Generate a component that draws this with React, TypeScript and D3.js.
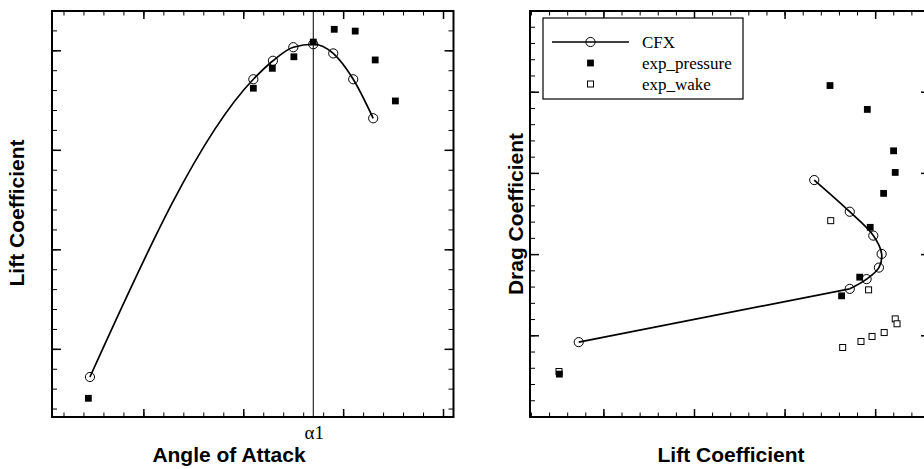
import * as d3 from 'd3';

// CFX simulation: angle of attack, lift, drag
const ALPHA_CFX = [-2.7, 5.48, 6.46, 7.48, 8.48, 9.48, 10.48, 11.48];
const LIFT_CFX = [-0.139, 1.357, 1.45, 1.518, 1.533, 1.487, 1.357, 1.161];
const DRAG_CFX = [0.0461, 0.0789, 0.0849, 0.092, 0.1004, 0.1117, 0.1264, 0.1459];

// experiment, pressure integration
const ALPHA_PRESSURE = [-2.78, 5.48, 6.43, 7.51, 8.48, 9.53, 10.58, 11.58, 12.59];
const LIFT_PRESSURE = [-0.246, 1.312, 1.412, 1.47, 1.544, 1.608, 1.599, 1.454, 1.248];
const DRAG_PRESSURE = [0.0264, 0.0746, 0.0861, 0.1168, 0.1377, 0.1506, 0.1639, 0.1894, 0.2041];

// experiment, wake survey
const LIFT_WAKE = [-0.248, 1.318, 1.419, 1.48, 1.547, 1.608, 1.618, 1.461, 1.252];
const DRAG_WAKE = [0.028, 0.0428, 0.0465, 0.0496, 0.052, 0.0604, 0.0574, 0.0783, 0.1209];

const ALPHA_1 = 8.48;

// tick values (no labels on the axes)
const ALPHA_MAJOR = [0, 5, 10, 15];
const ALPHA_MINOR = d3.range(-4, 16, 1);
const LIFT_MAJOR = [0, 0.5, 1, 1.5];
const LIFT_MINOR = d3.range(-3, 18, 1).map(d => d / 10);
const LIFTX_MINOR = d3.range(-4, 19, 1).map(d => d / 10);
const DRAG_MAJOR = [0, 0.05, 0.1, 0.15, 0.2, 0.25];
const DRAG_MINOR = d3.range(0, 26, 1).map(d => d / 100);

const SANS = '"Liberation Sans", Arial, Helvetica, sans-serif';
const SERIF = '"Liberation Serif", "Times New Roman", serif';

type Scale = d3.ScaleLinear<number, number>;

function Frame({ x, y, xMajor, xMinor, yMajor, yMinor }: {
  x: Scale; y: Scale; xMajor: number[]; xMinor: number[]; yMajor: number[]; yMinor: number[];
}) {
  const [x0, x1] = x.range();
  const [y0, y1] = y.range(); // y0 bottom, y1 top
  const inX = (v: number) => v >= Math.min(x0, x1) && v <= Math.max(x0, x1);
  const inY = (v: number) => v >= Math.min(y0, y1) && v <= Math.max(y0, y1);
  const ticks: JSX.Element[] = [];
  const add = (vals: number[], len: number, w: number, key: string) => {
    vals.forEach((v, i) => {
      const px = x(v);
      if (!inX(px)) return;
      ticks.push(<line key={`${key}b${i}`} x1={px} x2={px} y1={y0} y2={y0 - len} stroke="#000" strokeWidth={w} />);
      ticks.push(<line key={`${key}t${i}`} x1={px} x2={px} y1={y1} y2={y1 + len} stroke="#000" strokeWidth={w} />);
    });
  };
  const addY = (vals: number[], len: number, w: number, key: string) => {
    vals.forEach((v, i) => {
      const py = y(v);
      if (!inY(py)) return;
      ticks.push(<line key={`${key}l${i}`} x1={x0} x2={x0 + len} y1={py} y2={py} stroke="#000" strokeWidth={w} />);
      ticks.push(<line key={`${key}r${i}`} x1={x1} x2={x1 - len} y1={py} y2={py} stroke="#000" strokeWidth={w} />);
    });
  };
  add(xMinor, 4.5, 1, 'xm');
  add(xMajor, 8, 1.5, 'xM');
  addY(yMinor, 5, 1, 'ym');
  addY(yMajor, 9, 1.5, 'yM');
  return (
    <g>
      {ticks}
      <rect x={x0} y={y1} width={x1 - x0} height={y0 - y1} fill="none" stroke="#000" strokeWidth={2} />
    </g>
  );
}

const Circle = ({ cx, cy }: { cx: number; cy: number }) => (
  <circle cx={cx} cy={cy} r={4.6} fill="none" stroke="#000" strokeWidth={1} />
);
const Filled = ({ cx, cy }: { cx: number; cy: number }) => (
  <rect x={cx - 3.4} y={cy - 3.4} width={6.8} height={6.8} fill="#000" />
);
const Open = ({ cx, cy }: { cx: number; cy: number }) => (
  <rect x={cx - 3} y={cy - 3} width={6} height={6} fill="#fff" stroke="#000" strokeWidth={1} />
);

export default function App() {
  // left: lift vs angle of attack
  const xA = d3.scaleLinear().domain([-4.6, 15.5]).range([52, 453.5]);
  const yL = d3.scaleLinear().domain([-0.34, 1.7]).range([417, 11]);
  // right: drag vs lift
  const xL = d3.scaleLinear().domain([-0.408, 1.8]).range([530, 930]);
  const yD = d3.scaleLinear().domain([0, 0.25]).range([417, 11]);

  const liftCurve = d3.line<number>()
    .x((_, i) => xA(ALPHA_CFX[i]))
    .y(d => yL(d))
    .curve(d3.curveMonotoneX)(LIFT_CFX);

  // polar: straight from the first point, smooth around the nose
  const polarIdx = d3.range(DRAG_CFX.length);
  const polarLine = d3.line<number>()
    .x(i => xL(LIFT_CFX[i]))
    .y(i => yD(DRAG_CFX[i]));
  const polarStart = polarLine(polarIdx.slice(0, 2));
  const polarNose = polarLine.curve(d3.curveCatmullRom.alpha(0.5))(polarIdx.slice(1));

  return (
    <svg width={924} height={469} style={{ position: 'absolute', left: 0, top: 0, background: '#fff' }}>
      <rect width={924} height={469} fill="#fff" />

      {/* left chart */}
      <line x1={xA(ALPHA_1)} x2={xA(ALPHA_1)} y1={yL.range()[1]} y2={yL.range()[0]} stroke="#000" strokeWidth={1} />
      <path d={liftCurve || ''} fill="none" stroke="#000" strokeWidth={1.7} />
      {LIFT_CFX.map((d, i) => <Circle key={i} cx={xA(ALPHA_CFX[i])} cy={yL(d)} />)}
      {LIFT_PRESSURE.map((d, i) => <Filled key={i} cx={xA(ALPHA_PRESSURE[i])} cy={yL(d)} />)}
      <Frame x={xA} y={yL} xMajor={ALPHA_MAJOR} xMinor={ALPHA_MINOR} yMajor={LIFT_MAJOR} yMinor={LIFT_MINOR} />
      <text x={xA(ALPHA_1) + 1} y={439} textAnchor="middle" fontFamily={SERIF} fontSize={19}>α1</text>
      <text x={229} y={462} textAnchor="middle" fontFamily={SANS} fontWeight="bold" fontSize={21}>Angle of Attack</text>
      <text transform="translate(24,213) rotate(-90)" textAnchor="middle" fontFamily={SANS} fontWeight="bold" fontSize={21}>Lift Coefficient</text>

      {/* right chart */}
      <path d={polarStart || ''} fill="none" stroke="#000" strokeWidth={1.7} />
      <path d={polarNose || ''} fill="none" stroke="#000" strokeWidth={1.7} />
      {DRAG_CFX.map((d, i) => <Circle key={i} cx={xL(LIFT_CFX[i])} cy={yD(d)} />)}
      {DRAG_WAKE.map((d, i) => <Open key={i} cx={xL(LIFT_WAKE[i])} cy={yD(d)} />)}
      {DRAG_PRESSURE.map((d, i) => <Filled key={i} cx={xL(LIFT_PRESSURE[i])} cy={yD(d)} />)}
      <Frame x={xL} y={yD} xMajor={LIFT_MAJOR} xMinor={LIFTX_MINOR} yMajor={DRAG_MAJOR} yMinor={DRAG_MINOR} />
      <text x={731} y={462} textAnchor="middle" fontFamily={SANS} fontWeight="bold" fontSize={21}>Lift Coefficient</text>
      <text transform="translate(523,214) rotate(-90)" textAnchor="middle" fontFamily={SANS} fontWeight="bold" fontSize={21}>Drag Coefficient</text>

      {/* legend */}
      <g>
        <rect x={543} y={18} width={200} height={81} fill="#fff" stroke="#000" strokeWidth={1.2} />
        <line x1={552} x2={629} y1={42} y2={42} stroke="#000" strokeWidth={1.7} />
        <Circle cx={590.5} cy={42} />
        <Filled cx={590.5} cy={63} />
        <Open cx={590.5} cy={84} />
        <text x={642} y={47.5} fontFamily={SERIF} fontSize={17}>CFX</text>
        <text x={642} y={68.5} fontFamily={SERIF} fontSize={17}>exp_pressure</text>
        <text x={642} y={89.5} fontFamily={SERIF} fontSize={17}>exp_wake</text>
      </g>
    </svg>
  );
}
